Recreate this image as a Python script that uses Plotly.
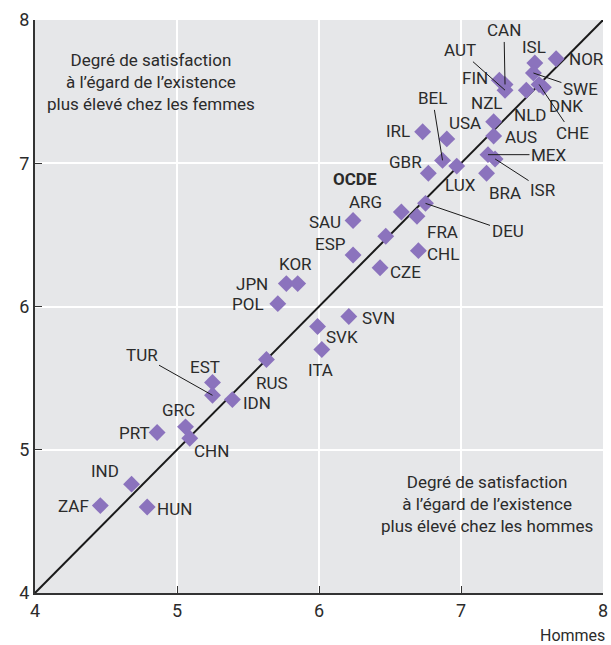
import plotly.graph_objects as go

# Satisfaction à l'égard de l'existence : hommes (x) vs femmes (y)
pays = ["NOR", "ISL", "SWE", "FIN", "CAN", "AUT", "NLD", "DNK", "CHE",
        "NZL", "AUS", "USA", "IRL", "BEL", "LUX", "GBR", "MEX", "ISR", "BRA",
        "OCDE", "ARG", "FRA", "DEU", "SAU", "ESP", "CHL", "CZE",
        "JPN", "KOR", "POL", "SVN", "SVK", "ITA", "RUS",
        "EST", "TUR", "IDN", "GRC", "CHN", "PRT", "IND", "ZAF", "HUN"]
hommes = [7.67, 7.52, 7.51, 7.27, 7.31, 7.31, 7.46, 7.58, 7.55,
          7.23, 7.23, 6.90, 6.73, 6.87, 6.97, 6.77, 7.19, 7.24, 7.18,
          6.47, 6.58, 6.69, 6.75, 6.24, 6.24, 6.70, 6.43,
          5.77, 5.85, 5.71, 6.21, 5.99, 6.02, 5.63,
          5.25, 5.25, 5.39, 5.06, 5.09, 4.86, 4.68, 4.46, 4.79]
femmes = [7.73, 7.70, 7.63, 7.58, 7.55, 7.51, 7.51, 7.53, 7.55,
          7.29, 7.19, 7.17, 7.22, 7.02, 6.98, 6.93, 7.06, 7.03, 6.93,
          6.49, 6.66, 6.63, 6.72, 6.60, 6.36, 6.39, 6.27,
          6.16, 6.16, 6.02, 5.93, 5.86, 5.70, 5.63,
          5.47, 5.38, 5.35, 5.16, 5.08, 5.12, 4.76, 4.61, 4.60]

# placement des étiquettes (décalage en pixels, trait de rappel)
etiquettes = {
    "NOR": (30, 0, False), "ISL": (-1, -16, False), "SWE": (47, 16, True),
    "FIN": (-24, -2, False), "CAN": (-1, -54, True), "AUT": (-45, -40, True),
    "NLD": (4, 25, False), "DNK": (23, 19, False), "CHE": (33, 49, True),
    "NZL": (-7, -19, False), "AUS": (27, 1, False), "USA": (18, -16, False),
    "IRL": (-25, -1, False), "BEL": (-10, -62, True), "LUX": (4, 19, False),
    "GBR": (-23, -11, False), "MEX": (61, 0, True), "ISR": (48, 31, True),
    "BRA": (18, 20, False), "OCDE": (-31, -57, False), "ARG": (-36, -10, False),
    "FRA": (26, 16, False), "DEU": (82, 28, True), "SAU": (-28, 1, False),
    "ESP": (-23, -11, False), "CHL": (25, 3, False), "CZE": (25, 4, False),
    "JPN": (-34, 0, False), "KOR": (-2, -20, False), "POL": (-30, 0, False),
    "SVN": (30, 1, False), "SVK": (24, 10, False), "ITA": (-1, 21, False),
    "RUS": (6, 23, False), "EST": (-8, -15, False), "TUR": (-71, -40, True),
    "IDN": (25, 3, False), "GRC": (-7, -17, False), "CHN": (22, 13, False),
    "PRT": (-23, 0, False), "IND": (-27, -13, False), "ZAF": (-27, 0, False),
    "HUN": (27, 2, False),
}

POLICE = "Roboto, Liberation Sans, sans-serif"
TEXTE = "#2b2b2b"

fig = go.Figure()

# diagonale d'égalité
fig.add_trace(go.Scatter(x=[4, 8], y=[4, 8], mode="lines",
                         line=dict(color="#1a1a1a", width=2),
                         hoverinfo="skip", showlegend=False))

fig.add_trace(go.Scatter(x=hommes, y=femmes, mode="markers", text=pays,
                         marker=dict(symbol="diamond", size=13, color="#8b73bd",
                                     line=dict(width=0)),
                         showlegend=False))

for p, hx, fy in zip(pays, hommes, femmes):
    dx, dy, trait = etiquettes[p]
    libelle = "<b>OCDE</b>" if p == "OCDE" else p
    if trait:
        fig.add_annotation(x=hx, y=fy, text=libelle, showarrow=True, ax=dx, ay=dy,
                           arrowhead=0, arrowwidth=1, arrowcolor="#1a1a1a",
                           standoff=0, font=dict(size=17, color=TEXTE))
    else:
        fig.add_annotation(x=hx, y=fy, text=libelle, showarrow=False,
                           xshift=dx, yshift=-dy, font=dict(size=17, color=TEXTE))

fig.add_annotation(x=0.205, y=0.891, xref="paper", yref="paper", showarrow=False,
                   xanchor="center", yanchor="middle",
                   text="Degré de satisfaction<br>à l’égard de l’existence<br>plus élevé chez les femmes",
                   font=dict(size=17, color=TEXTE), align="center")
fig.add_annotation(x=0.795, y=0.155, xref="paper", yref="paper", showarrow=False,
                   xanchor="center", yanchor="middle",
                   text="Degré de satisfaction<br>à l’égard de l’existence<br>plus élevé chez les hommes",
                   font=dict(size=17, color=TEXTE), align="center")
fig.add_annotation(x=1.0, y=-0.054, xref="paper", yref="paper", showarrow=False,
                   xanchor="right", yanchor="top", text="Hommes", xshift=4,
                   font=dict(size=16, color=TEXTE))

axe = dict(range=[4, 8], dtick=1, showgrid=True, gridcolor="white", gridwidth=2,
           zeroline=False, showline=True, linecolor="#333333", linewidth=2,
           ticks="inside", ticklen=7, tickcolor="#333333", tickwidth=1,
           tickfont=dict(size=18, color=TEXTE), fixedrange=True, automargin=False)

fig.update_layout(
    width=611, height=645,
    margin=dict(l=35, r=8, t=20, b=52),
    paper_bgcolor="white", plot_bgcolor="#e6e7e9",
    font=dict(family=POLICE, color=TEXTE),
    xaxis=dict(axe),
    yaxis=dict(axe),
)

# retirer la marge par défaut de la page et les barres de défilement
fig.write_html("out.html", config={"displayModeBar": False}, post_script=(
    "document.body.style.margin='0';"
    "document.documentElement.style.overflow='hidden';"))
